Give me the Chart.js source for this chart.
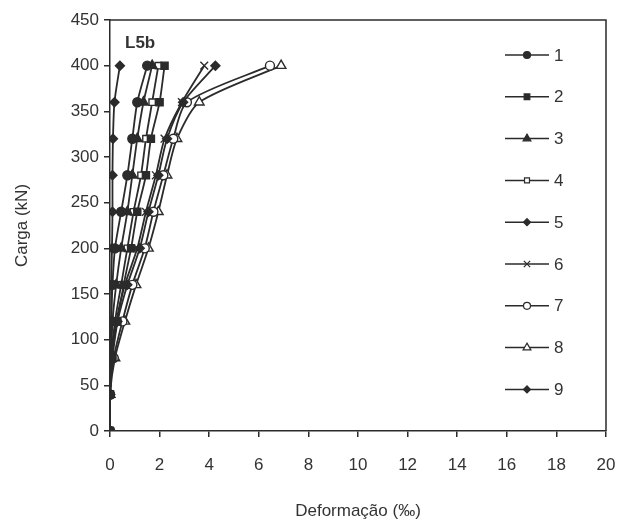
<!DOCTYPE html>
<html>
<head>
<meta charset="utf-8">
<script src="https://cdn.jsdelivr.net/npm/chart.js@4/dist/chart.umd.min.js"></script>
<style>
  html, body { margin: 0; padding: 0; background: #fff; }
</style>
</head>
<body>
<canvas id="myChart" width="624" height="530"></canvas>
<script>
// load steps (kN), same for every gauge
const loads = [0, 40, 80, 120, 160, 200, 240, 280, 320, 360, 400];

// strain readings (per mil) per gauge
const s1 = [0, 0, 0.02, 0.05, 0.1, 0.2, 0.45, 0.7, 0.9, 1.1, 1.5];
const s2 = [0, 0, 0.1, 0.3, 0.55, 0.85, 1.1, 1.45, 1.65, 2.0, 2.2];
const s3 = [0, 0, 0.05, 0.1, 0.25, 0.45, 0.7, 0.9, 1.1, 1.35, 1.7];
const s4 = [0, 0, 0.05, 0.2, 0.45, 0.7, 0.95, 1.25, 1.45, 1.7, 1.95];
const s5 = [0, 0, 0.05, 0.3, 0.7, 1.2, 1.55, 1.95, 2.3, 2.95, 4.25];
const s6 = [0, 0, 0.05, 0.25, 0.6, 1.1, 1.45, 1.85, 2.2, 2.9, 3.8];
const s7 = [0, 0, 0.15, 0.5, 0.9, 1.4, 1.75, 2.15, 2.55, 3.1, 6.45];
const s8 = [0, 0, 0.2, 0.6, 1.05, 1.55, 1.95, 2.3, 2.7, 3.6, 6.9];
const s9 = [0, 0, 0.02, 0.05, 0.05, 0.08, 0.1, 0.1, 0.12, 0.18, 0.4];

const seriesNames = ["1", "2", "3", "4", "5", "6", "7", "8", "9"];
const seriesData = [s1, s2, s3, s4, s5, s6, s7, s8, s9];

const dark = "#2b2b2b";
const txt = "#333333";
const fontFam = "'Liberation Sans', Arial, sans-serif";

const markers = [
  { style: "circle", r: 4.5, fill: dark },
  { style: "rect", r: 5, fill: dark },
  { style: "triangle", r: 5.5, fill: dark },
  { style: "rect", r: 4.5, fill: "#fff" },
  { style: "rectRot", r: 4.5, fill: dark },
  { style: "crossRot", r: 5.5, fill: dark },
  { style: "circle", r: 4.5, fill: "#fff" },
  { style: "triangle", r: 5.5, fill: "#fff" },
  { style: "rectRot", r: 4.5, fill: dark },
];

const datasets = seriesData.map((vals, i) => ({
  label: seriesNames[i],
  data: vals.map((v, k) => ({ x: v, y: loads[k] })),
  borderColor: dark,
  borderWidth: 1.8,
  pointStyle: markers[i].style,
  pointRadius: markers[i].r,
  pointBackgroundColor: markers[i].fill,
  pointBorderColor: dark,
  pointBorderWidth: 1.4,
  tension: 0.25,
  fill: false,
}));

// legend sits inside the plot frame on the right, like the original
const insideLegend = {
  id: "insideLegend",
  afterDraw(chart) {
    const ctx = chart.ctx;
    ctx.save();
    datasets.forEach((ds, i) => {
      const y = 55 + i * 41.8;
      ctx.strokeStyle = dark;
      ctx.lineWidth = 1.5;
      ctx.beginPath();
      ctx.moveTo(505, y);
      ctx.lineTo(549, y);
      ctx.stroke();
      ctx.fillStyle = markers[i].fill;
      ctx.strokeStyle = dark;
      ctx.lineWidth = 1.2;
      if (Chart.helpers && Chart.helpers.drawPoint) {
        Chart.helpers.drawPoint(ctx, { pointStyle: markers[i].style, radius: markers[i].r - 1, borderWidth: 1.2, rotation: 0 }, 527, y);
      }
      ctx.fillStyle = txt;
      ctx.font = "17px " + fontFam;
      ctx.textAlign = "left";
      ctx.textBaseline = "middle";
      ctx.fillText(ds.label, 554, y + 1);
    });
    // panel label
    ctx.font = "bold 17px " + fontFam;
    ctx.fillStyle = txt;
    ctx.textBaseline = "middle";
    ctx.fillText("L5b", 125, 43);
    // frame top and right
    const a = chart.chartArea;
    ctx.strokeStyle = dark;
    ctx.lineWidth = 1.5;
    ctx.beginPath();
    ctx.moveTo(a.left, a.top);
    ctx.lineTo(a.right, a.top);
    ctx.lineTo(a.right, a.bottom);
    ctx.stroke();
    ctx.restore();
  },
};

new Chart(document.getElementById("myChart"), {
  type: "line",
  data: { datasets: datasets },
  options: {
    responsive: false,
    animation: false,
    layout: { padding: { top: 20, right: 18, left: 0, bottom: 0 } },
    plugins: { legend: { display: false }, tooltip: { enabled: false } },
    scales: {
      x: {
        type: "linear",
        min: 0,
        max: 20,
        ticks: { stepSize: 2, color: txt, font: { size: 17, family: fontFam }, padding: 18 },
        grid: { drawOnChartArea: false, tickLength: 6, color: dark, lineWidth: 1.5 },
        border: { color: dark, width: 1.5 },
        title: { display: true, text: "Deformação (‰)", color: txt, font: { size: 17, family: fontFam }, padding: { top: 0, bottom: 8 } },
        afterFit(scale) {
          scale.height = 99;
          scale.paddingLeft = 0;
          scale.paddingRight = 0;
        },
      },
      y: {
        type: "linear",
        min: 0,
        max: 450,
        ticks: { stepSize: 50, color: txt, font: { size: 17, family: fontFam }, padding: 5 },
        grid: { drawOnChartArea: false, tickLength: 6, color: dark, lineWidth: 1.5 },
        border: { color: dark, width: 1.5 },
        title: { display: true, text: "Carga (kN)", color: txt, font: { size: 17, family: fontFam }, padding: { top: 12, bottom: 0 } },
        afterFit(scale) {
          scale.width = 110;
          scale.paddingTop = 0;
          scale.paddingBottom = 0;
        },
      },
    },
  },
  plugins: [insideLegend],
});
</script>
</body>
</html>
